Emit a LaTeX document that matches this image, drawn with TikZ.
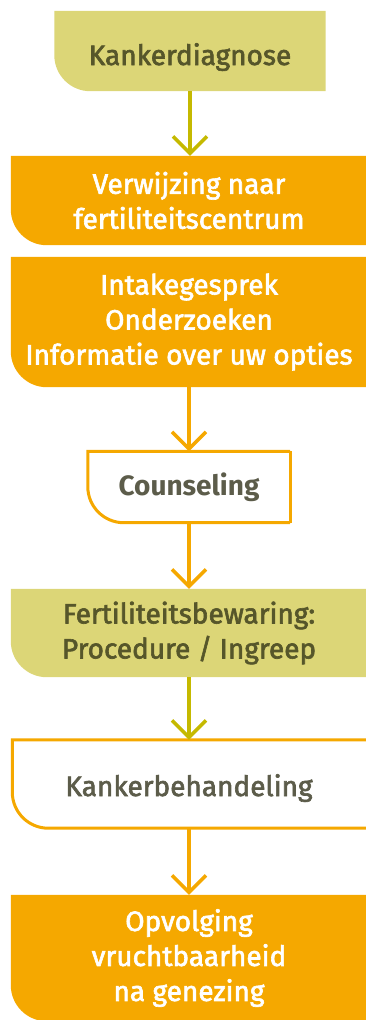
\documentclass[tikz,border=0pt]{standalone}
\usepackage{fontspec}
\setmainfont{Fira Sans}
\newfontfamily\medfont{Fira Sans}[FakeBold=2.2]
\usetikzlibrary{arrows.meta,backgrounds}
\definecolor{orng}{HTML}{F5A800}
\definecolor{olivefill}{HTML}{DCD677}
\definecolor{olivearrow}{HTML}{C5B900}
\definecolor{olivetext}{HTML}{56562A}
\definecolor{graytext}{HTML}{5C5C4A}
\tikzset{
  stepbox/.style={inner sep=0pt, align=center, minimum width=#1,
    font=\medfont\fontsize{28}{35}\selectfont},
  flowarrow/.style={line width=3.5pt, -{Straight Barb[length=17pt,width=34pt,line width=3.5pt]}},
}
\newcommand{\leftround}[3]{% name, extra right, options
  \path[#3] ([xshift=#2]#1.north east) -- (#1.north west) -- ([yshift=36pt]#1.south west)
    arc[start angle=180, end angle=270, radius=36pt] -- ([xshift=#2]#1.south east);}
\begin{document}
\begin{tikzpicture}[x=1pt,y=1pt]
\clip (0,0) rectangle (365,-1020);
% nodes
\node[stepbox=271pt, minimum height=80pt, text=olivetext, text height=28pt, text depth=0pt] (k1) at (190,-51) {Kankerdiagnose};
\node[stepbox=356pt, minimum height=89pt, text=white] (k2) at (189,-200.5) {Verwijzing naar\\fertiliteitscentrum};
\node[stepbox=356pt, minimum height=130pt, text=white] (k3) at (189,-322) {Intakegesprek\\Onderzoeken\\Informatie over uw opties};
\node[stepbox=202pt, minimum height=71pt, text=graytext, font=\fontsize{28}{35}\selectfont\bfseries] (k4) at (189,-487) {Counseling};
\node[stepbox=356pt, minimum height=88pt, text=olivetext] (k5) at (189,-633) {Fertiliteitsbewaring:\\Procedure / Ingreep};
\node[stepbox=353pt, minimum height=88pt, text=graytext, text height=24pt, text depth=0pt] (k6) at (189,-784) {Kankerbehandeling};
\node[stepbox=356pt, minimum height=126pt, text=white] (k7) at (189,-958) {Opvolging\\vruchtbaarheid\\na genezing};
% shapes
\begin{scope}[on background layer]
\leftround{k1}{0pt}{fill=olivefill}
\leftround{k2}{0pt}{fill=orng}
\leftround{k3}{0pt}{fill=orng}
\leftround{k4}{0pt}{draw=orng, line width=3pt, fill=white}
\draw[orng, line width=3pt] (k4.north east) -- (k4.south east);
\leftround{k5}{0pt}{fill=olivefill}
\leftround{k6}{20pt}{draw=orng, line width=3pt}
\leftround{k7}{0pt}{fill=orng}
\end{scope}
% connectors
\draw[flowarrow, olivearrow] (k1.south) -- (k1.south |- k2.north);
\draw[flowarrow, orng] (k3.south) -- (k4.north);
\draw[flowarrow, orng] (k4.south) -- (k5.north);
\draw[flowarrow, olivearrow] (k5.south) -- (k6.north);
\draw[flowarrow, orng] (k6.south) -- (k7.north);
\end{tikzpicture}
\end{document}
